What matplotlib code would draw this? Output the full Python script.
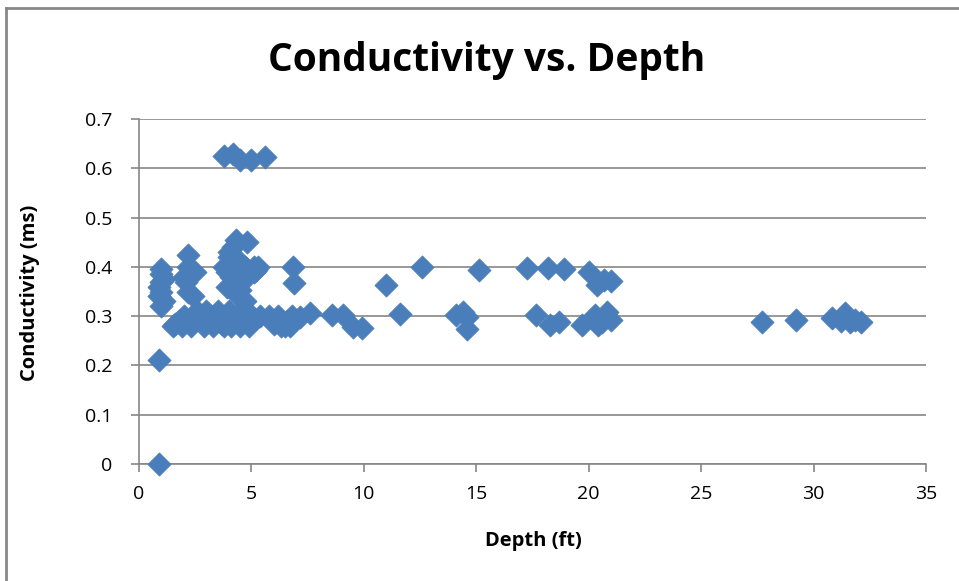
import matplotlib
matplotlib.use("Agg")
import matplotlib.pyplot as plt
from matplotlib.lines import Line2D

# Depth (ft) and conductivity (mS) values
depth = [
    0.9, 0.9,
    0.9, 0.9, 1.0, 1.0, 1.0, 1.0, 1.1, 1.1, 1.0,
    1.5, 1.6, 1.8, 1.9,
    2.0, 2.0, 2.1, 2.1, 2.2, 2.2, 2.2, 2.3, 2.3, 2.4, 2.5, 2.5, 2.6,
    2.8, 2.9, 3.0, 3.1, 3.2, 3.3, 3.5, 3.6, 3.7,
    3.8, 3.8, 3.9, 3.9, 3.9, 4.0, 4.0, 4.0, 4.0, 4.1, 4.1,
    4.2, 4.3, 4.3, 4.3, 4.4, 4.4, 4.5, 4.5, 4.5, 4.6, 4.6, 4.7, 4.7,
    4.8, 4.8, 4.9, 4.9, 5.0, 5.1, 5.1, 5.2, 5.3, 5.4,
    5.8, 6.0, 6.2, 6.3, 6.5, 6.6, 6.7, 6.8, 6.85, 6.9, 7.15, 7.6,
    8.6, 9.07, 9.5, 9.9,
    11.0, 11.6, 12.6,
    14.1, 14.4, 14.6, 14.6, 15.1,
    17.25, 17.65, 18.2, 18.3, 18.7, 18.9,
    19.7, 20.0, 20.3, 20.35, 20.4, 20.6, 20.7, 20.8, 21.0, 21.0,
    27.7, 29.2, 30.8, 31.2, 31.4, 31.6, 31.85, 32.1,
    3.8, 4.2, 4.5, 5.0, 5.6,
]
conductivity = [
    0.0, 0.212,
    0.34, 0.36, 0.37, 0.385, 0.395, 0.35, 0.33, 0.375, 0.32,
    0.28, 0.285, 0.29, 0.28,
    0.38, 0.30, 0.37, 0.29, 0.424, 0.40, 0.35, 0.39, 0.28, 0.34, 0.39, 0.30, 0.31,
    0.30, 0.28, 0.31, 0.29, 0.30, 0.28, 0.31, 0.30, 0.285,
    0.40, 0.28, 0.39, 0.36, 0.30, 0.42, 0.43, 0.31, 0.29, 0.38, 0.28,
    0.44, 0.455, 0.40, 0.30, 0.38, 0.34, 0.353, 0.28, 0.41, 0.37, 0.30, 0.40, 0.33,
    0.45, 0.31, 0.39, 0.28, 0.30, 0.40, 0.39, 0.393, 0.40, 0.30,
    0.30, 0.285, 0.30, 0.28, 0.28, 0.29, 0.28, 0.30, 0.40, 0.367, 0.298, 0.306,
    0.302, 0.302, 0.278, 0.276,
    0.363, 0.304, 0.40,
    0.302, 0.308, 0.298, 0.274, 0.393,
    0.397, 0.302, 0.397, 0.282, 0.288, 0.395,
    0.282, 0.39, 0.302, 0.363, 0.282, 0.288, 0.373, 0.308, 0.371, 0.292,
    0.288, 0.292, 0.296, 0.29, 0.306, 0.288, 0.292, 0.288,
    0.625, 0.628, 0.617, 0.617, 0.622,
]

x_ticks = [0, 5, 10, 15, 20, 25, 30, 35]
y_ticks = [0, 0.1, 0.2, 0.3, 0.4, 0.5, 0.6, 0.7]
y_tick_labels = ["0", "0.1", "0.2", "0.3", "0.4", "0.5", "0.6", "0.7"]

FONT = ["Open Sans", "DejaVu Sans"]
W, H = 959, 581
fig = plt.figure(figsize=(W / 100, H / 100), dpi=100)
ax = fig.add_axes([139 / W, 1 - 464 / H, (926 - 139) / W, (464 - 119) / H])

grid_c = "#868686"
ax.set_xlim(0, 35)
ax.set_ylim(0, 0.7)
ax.set_xticks(x_ticks)
ax.set_yticks(y_ticks)
ax.set_xticklabels([str(t) for t in x_ticks], fontsize=14, family=FONT)
ax.set_yticklabels(y_tick_labels, fontsize=14, family=FONT)
ax.yaxis.grid(True, color=grid_c, linewidth=1.2)
ax.set_axisbelow(True)
for s in ["top", "right"]:
    ax.spines[s].set_visible(False)
for s in ["left", "bottom"]:
    ax.spines[s].set_color(grid_c)
    ax.spines[s].set_linewidth(1.2)
ax.tick_params(axis="both", direction="out", length=6, width=1.2, color=grid_c)
ax.tick_params(axis="x", pad=9)
ax.tick_params(axis="y", pad=13)

ax.scatter(depth, conductivity, marker="D", s=140, color="#4a7ebb", edgecolors="#4a7ebb",
           linewidths=0.5, zorder=3, clip_on=False)

fig.text(487 / W, 1 - 60 / H, "Conductivity vs. Depth", ha="center", va="center",
         fontsize=28, fontweight="bold", family=FONT)
fig.text(533 / W, 1 - 541 / H, "Depth (ft)", ha="center", va="center",
         fontsize=14.5, fontweight="bold", family=FONT)
fig.text(30 / W, 1 - 293 / H, "Conductivity (ms)", ha="center", va="center",
         rotation=90, fontsize=14.5, fontweight="bold", family=FONT)

# chart border (left and top edges visible)
fig.add_artist(Line2D([6 / W, 6 / W], [0, 1 - 8 / H], transform=fig.transFigure,
                      color="#888888", linewidth=2))
fig.add_artist(Line2D([6 / W, 1], [1 - 8 / H, 1 - 8 / H], transform=fig.transFigure,
                      color="#888888", linewidth=2))

fig.savefig("out.png", dpi=100)
